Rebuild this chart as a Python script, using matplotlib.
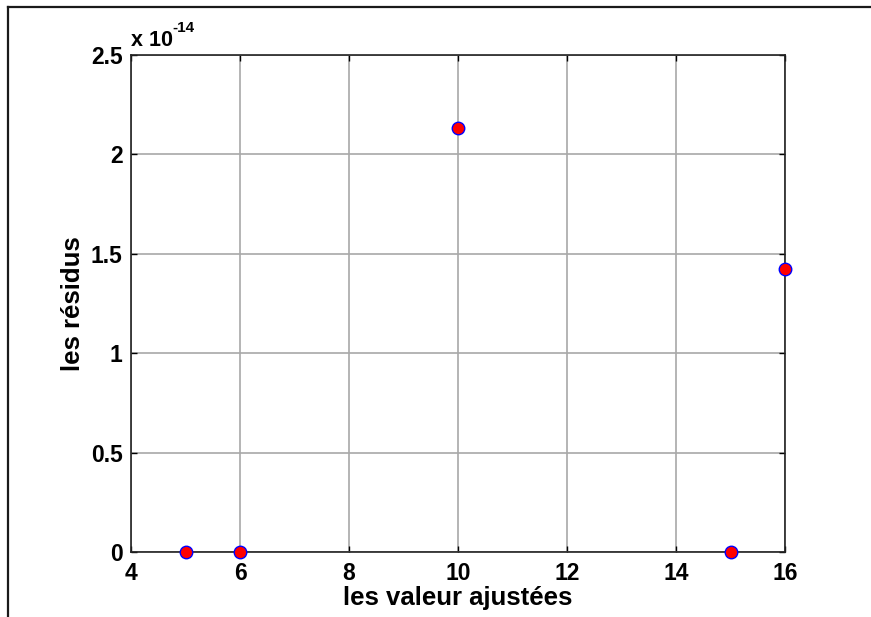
import matplotlib
matplotlib.use("Agg")
import matplotlib.pyplot as plt
from matplotlib.lines import Line2D
from matplotlib.ticker import FuncFormatter

plt.rcParams['font.family'] = ['Liberation Sans', 'DejaVu Sans']
plt.rcParams['font.weight'] = 'bold'

# valeurs ajustées et résidus du modèle
fitted = [5, 6, 10, 15, 16]
residuals = [0.0, 0.0, 2.1316e-14, 0.0, 1.4211e-14]

x_ticks = [4, 6, 8, 10, 12, 14, 16]
y_ticks = [0, 0.5e-14, 1.0e-14, 1.5e-14, 2.0e-14, 2.5e-14]
SCALE = 1e-14

fig = plt.figure(figsize=(8.71, 6.17), dpi=100)
ax = fig.add_axes([0.1504, 0.1054, 0.7509, 0.8055])

ax.plot(fitted, residuals, 'o', markersize=9, markerfacecolor='red',
        markeredgecolor='blue', markeredgewidth=1.0, clip_on=False, zorder=5)

ax.set_xlim(4, 16)
ax.set_ylim(0, 2.5e-14)
ax.set_xticks(x_ticks)
ax.set_yticks(y_ticks)
ax.yaxis.set_major_formatter(FuncFormatter(lambda v, p: '%g' % round(v / SCALE, 3)))

ax.grid(True, color='#a8a8a8', linewidth=1.2, linestyle='-')
ax.set_axisbelow(True)
ax.tick_params(direction='in', length=4, width=1, top=True, right=True,
               labelsize=16.5, pad=7, colors='black')
ax.tick_params(axis='y', pad=6)
for lbl in ax.get_xticklabels() + ax.get_yticklabels():
    lbl.set_fontweight('bold')
for s in ax.spines.values():
    s.set_linewidth(1.2)
    s.set_color('#222222')

ax.set_xlabel('les valeur ajustées', fontsize=18.5, fontweight='bold', labelpad=1)
ax.set_ylabel('les résidus', fontsize=18.5, fontweight='bold', labelpad=4)

# facteur d'échelle de l'axe y, façon MATLAB
ax.text(0.0, 1.018, 'x 10', transform=ax.transAxes,
        fontsize=15.5, fontweight='bold', ha='left', va='baseline')
ax.text(0.0640, 1.046, '-14', transform=ax.transAxes,
        fontsize=11, fontweight='bold', ha='left', va='baseline')

# cadre de la figure (haut et gauche)
fig.add_artist(Line2D([0.0092, 0.0092], [0.0, 0.9887], transform=fig.transFigure,
                      color='#1a1a1a', linewidth=1.6))
fig.add_artist(Line2D([0.0092, 1.0], [0.9887, 0.9887], transform=fig.transFigure,
                      color='#1a1a1a', linewidth=1.6))

fig.savefig('out.png', dpi=100)
